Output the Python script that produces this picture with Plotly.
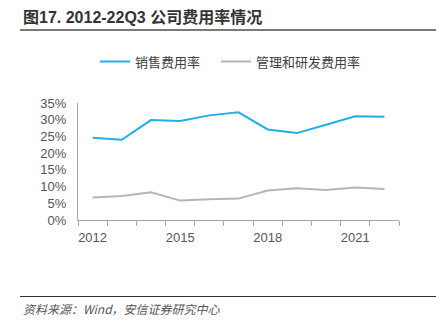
import plotly.graph_objects as go

years = [2012, 2013, 2014, 2015, 2016, 2017, 2018, 2019, 2020, 2021, 2022]
sales_rate = [24.6, 24.0, 29.9, 29.6, 31.3, 32.2, 27.1, 26.0, 28.5, 31.0, 30.9]
admin_rd_rate = [6.7, 7.2, 8.3, 5.8, 6.2, 6.4, 8.8, 9.5, 9.0, 9.7, 9.3]
year_labels = [2012, 2015, 2018, 2021]
y_ticks = [0, 5, 10, 15, 20, 25, 30, 35]

W, H = 444, 330
L, R, T, B = 78, 399, 103, 220

def px_x(x):
    return (x - L) / (R - L)

def px_y(y):
    return (B - y) / (B - T)

fig = go.Figure()
fig.add_trace(go.Scatter(x=years, y=sales_rate, mode="lines", name="销售费用率",
                         line=dict(color="#1FB0E6", width=2), legend="legend"))
fig.add_trace(go.Scatter(x=years, y=admin_rd_rate, mode="lines", name="管理和研发费用率",
                         line=dict(color="#BAB3B1", width=2), legend="legend2"))
fig.add_trace(go.Scatter(x=years, y=sales_rate, xaxis="x2", mode="lines",
                         line=dict(width=0), showlegend=False, hoverinfo="skip", opacity=0))

font_main = "Arial, 'Liberation Sans', 'Noto Sans CJK SC', sans-serif"
tick_font = dict(family=font_main, size=13, color="#555555")
legend_font = dict(family="'Noto Sans CJK SC', sans-serif", size=13, color="#404040")

fig.update_layout(
    width=W, height=H,
    margin=dict(l=L, r=W - R, t=T, b=H - B),
    paper_bgcolor="white", plot_bgcolor="white",
    showlegend=True,
    legend=dict(orientation="h", x=px_x(95), xanchor="left", y=0.768, yanchor="bottom",
                yref="container", font=legend_font, itemwidth=30, bgcolor="rgba(0,0,0,0)"),
    legend2=dict(orientation="h", x=px_x(216), xanchor="left", y=0.768, yanchor="bottom",
                 yref="container", font=legend_font, itemwidth=30, bgcolor="rgba(0,0,0,0)"),
    xaxis=dict(range=[2011.5, 2022.5], tickmode="array",
               tickvals=[y - 0.5 for y in years] + [2022.5],
               ticktext=[""] * (len(years) + 1),
               ticks="outside", ticklen=5, tickcolor="#A6A6A6", tickwidth=1,
               showline=True, linecolor="#A6A6A6", linewidth=1,
               showgrid=False, zeroline=False),
    xaxis2=dict(range=[2011.5, 2022.5], overlaying="x", anchor="y", side="bottom",
                tickmode="array", tickvals=year_labels, ticktext=[str(v) for v in year_labels],
                ticks="", showline=False, showgrid=False, zeroline=False,
                tickfont=tick_font, ticklabelstandoff=8),
    yaxis=dict(range=[0, 35], tickmode="array", tickvals=y_ticks,
               ticktext=[f"{v}%" for v in y_ticks],
               showline=True, linecolor="#A6A6A6", linewidth=1,
               showgrid=False, zeroline=False, ticks="", tickfont=tick_font,
               ticklabelstandoff=8),
)

fig.add_annotation(text="<b>图17. 2012-22Q3 公司费用率情况</b>", xref="paper", yref="paper",
                   x=px_x(21), y=px_y(17), xanchor="left", yanchor="middle",
                   showarrow=False,
                   font=dict(family=font_main, size=16, color="#333333"))
fig.add_annotation(text="<i>资料来源：Wind，安信证券研究中心</i>", xref="paper", yref="paper",
                   x=px_x(21), y=px_y(308), xanchor="left", yanchor="middle",
                   showarrow=False,
                   font=dict(family="'Noto Sans CJK SC', sans-serif", size=12, color="#555555"))

fig.add_shape(type="line", xref="paper", yref="paper", x0=px_x(20), x1=px_x(436),
              y0=px_y(30), y1=px_y(30), line=dict(color="#4D4D4D", width=1.5))
fig.add_shape(type="line", xref="paper", yref="paper", x0=px_x(20), x1=px_x(436),
              y0=px_y(296.5), y1=px_y(296.5), line=dict(color="#333333", width=1))

fig.write_html("out.html")
